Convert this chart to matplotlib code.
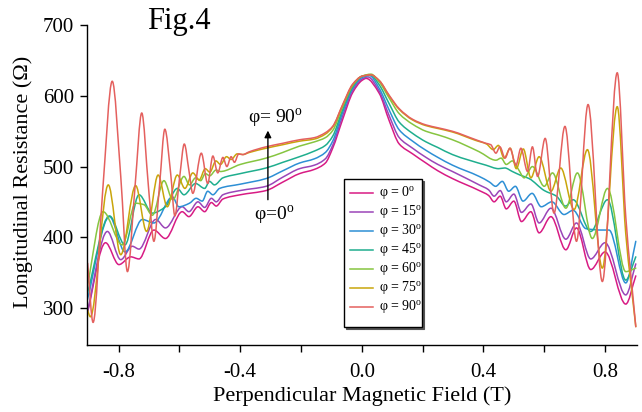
import numpy as np
import matplotlib
matplotlib.use("Agg")
import matplotlib.pyplot as plt
from matplotlib.path import Path
from matplotlib.patches import PathPatch, Rectangle
from matplotlib.lines import Line2D

plt.rcParams['font.family'] = 'Liberation Serif'
plt.rcParams['mathtext.fontset'] = 'custom'
plt.rcParams['mathtext.rm'] = 'Liberation Serif'

# magnetoresistance traces, field in T, resistance in Ohm
angles = [0, 15, 30, 45, 60, 75, 90]
colors = ['#d81b84', '#9b45b8', '#2d8fd5', '#1fae8e', '#86c540', '#c9a50b', '#e4605e']

b_00 = [-0.903, -0.843, -0.799, -0.760, -0.733, -0.684, -0.646, -0.591, -0.569, -0.539, -0.517,
        -0.495, -0.479, -0.457, -0.400, -0.315, -0.260, -0.205, -0.156, -0.120, -0.096, -0.063,
        -0.030, 0.000, 0.014, 0.057, 0.090, 0.123, 0.167, 0.211, 0.250, 0.298, 0.386, 0.417,
        0.435, 0.455, 0.475, 0.500, 0.525, 0.556, 0.583, 0.622, 0.671, 0.706, 0.753, 0.800,
        0.868, 0.901]
r_00 = [292, 392, 361, 372, 369, 410, 398, 436, 429, 443, 436,
        449, 444, 454, 460, 466, 478, 490, 496, 505, 526, 567,
        605, 622, 625, 604, 565, 532, 518, 505, 494, 483, 466, 459,
        450, 458, 440, 451, 422, 436, 406, 429, 382, 413, 354, 379,
        305, 345]

b_15 = [-0.903, -0.837, -0.793, -0.755, -0.733, -0.678, -0.646, -0.591, -0.569, -0.539, -0.517,
        -0.495, -0.479, -0.457, -0.400, -0.315, -0.260, -0.205, -0.156, -0.120, -0.096, -0.063,
        -0.030, 0.000, 0.020, 0.057, 0.090, 0.123, 0.167, 0.211, 0.250, 0.298, 0.386, 0.417,
        0.435, 0.455, 0.475, 0.500, 0.525, 0.556, 0.583, 0.622, 0.671, 0.706, 0.753, 0.800,
        0.868, 0.901]
r_15 = [294, 408, 368, 387, 383, 425, 413, 443, 436, 450, 442,
        455, 450, 460, 466, 472, 485, 497, 502, 511, 530, 572,
        608, 624, 627, 607, 572, 541, 526, 513, 503, 493, 474, 467,
        458, 466, 450, 461, 435, 447, 420, 441, 397, 420, 369, 392,
        318, 362]

b_30 = [-0.903, -0.830, -0.779, -0.722, -0.684, -0.623, -0.602, -0.567, -0.545, -0.525, -0.507,
        -0.490, -0.468, -0.400, -0.315, -0.260, -0.205, -0.156, -0.120, -0.096, -0.063, -0.030,
        0.000, 0.025, 0.057, 0.090, 0.123, 0.167, 0.211, 0.250, 0.298, 0.386, 0.420, 0.440,
        0.462, 0.483, 0.505, 0.530, 0.560, 0.590, 0.625, 0.665, 0.695, 0.737, 0.786, 0.813,
        0.868, 0.901]
r_30 = [311, 429, 379, 425, 420, 457, 443, 448, 455, 451, 465,
        460, 469, 475, 483, 494, 505, 511, 520, 536, 577, 611,
        626, 629, 611, 580, 552, 536, 523, 513, 502, 486, 478, 472,
        479, 465, 472, 451, 462, 443, 450, 432, 438, 412, 410, 410,
        335, 394]

b_45 = [-0.903, -0.830, -0.779, -0.733, -0.689, -0.646, -0.607, -0.585, -0.547, -0.517, -0.501,
        -0.485, -0.457, -0.400, -0.315, -0.260, -0.205, -0.156, -0.120, -0.096, -0.063, -0.030,
        0.000, 0.028, 0.057, 0.090, 0.123, 0.167, 0.211, 0.250, 0.298, 0.408, 0.450, 0.470,
        0.495, 0.520, 0.550, 0.600, 0.640, 0.670, 0.695, 0.753, 0.808, 0.868, 0.901]
r_45 = [320, 430, 389, 460, 434, 443, 469, 460, 476, 469, 479,
        474, 484, 490, 498, 506, 514, 522, 530, 543, 581, 613,
        628, 630, 616, 589, 563, 547, 535, 527, 517, 502, 497, 498,
        493, 488, 483, 466, 458, 444, 453, 408, 453, 339, 372]

b_60 = [-0.903, -0.851, -0.788, -0.744, -0.717, -0.689, -0.651, -0.622, -0.585, -0.567, -0.547,
        -0.530, -0.515, -0.500, -0.480, -0.465, -0.400, -0.315, -0.260, -0.205, -0.156, -0.120,
        -0.096, -0.063, -0.030, 0.000, 0.030, 0.057, 0.090, 0.123, 0.167, 0.211, 0.250, 0.298,
        0.386, 0.441, 0.458, 0.475, 0.495, 0.515, 0.534, 0.561, 0.600, 0.627, 0.671, 0.709,
        0.758, 0.808, 0.868, 0.901]
r_60 = [330, 436, 389, 448, 446, 431, 480, 453, 486, 474, 484,
        480, 490, 487, 495, 493, 503, 512, 520, 529, 535, 541,
        551, 585, 615, 628, 631, 620, 597, 575, 560, 550, 545, 538,
        521, 509, 512, 503, 508, 496, 484, 500, 472, 491, 441, 491,
        398, 469, 351, 356]

b_75 = [-0.902, -0.893, -0.834, -0.793, -0.744, -0.708, -0.670, -0.640, -0.607, -0.582, -0.556,
        -0.535, -0.515, -0.500, -0.480, -0.465, -0.445, -0.430, -0.410, -0.392, -0.370, -0.315,
        -0.260, -0.205, -0.156, -0.120, -0.096, -0.063, -0.030, 0.000, 0.030, 0.057, 0.090,
        0.123, 0.167, 0.211, 0.250, 0.298, 0.375, 0.410, 0.432, 0.449, 0.468, 0.488, 0.508,
        0.531, 0.556, 0.583, 0.622, 0.654, 0.698, 0.742, 0.791, 0.840, 0.868, 0.901]
r_75 = [296, 287, 474, 375, 473, 408, 488, 443, 488, 469, 491,
        481, 497, 492, 508, 503, 514, 510, 518, 517, 520, 526,
        531, 536, 539, 546, 556, 587, 616, 628, 630, 622, 600,
        581, 566, 558, 554, 549, 537, 532, 524, 530, 512, 526, 497,
        525, 484, 514, 465, 498, 439, 524, 356, 585, 405, 273]

b_90 = [-0.902, -0.884, -0.853, -0.821, -0.793, -0.771, -0.746, -0.724, -0.702, -0.684, -0.665,
        -0.648, -0.629, -0.615, -0.599, -0.584, -0.569, -0.556, -0.528, -0.507, -0.490, -0.474,
        -0.457, -0.444, -0.430, -0.419, -0.405, -0.392, -0.370, -0.315, -0.260, -0.205, -0.156,
        -0.120, -0.096, -0.063, -0.030, 0.000, 0.030, 0.057, 0.090, 0.123, 0.167, 0.211, 0.250,
        0.298, 0.375, 0.408, 0.424, 0.441, 0.454, 0.471, 0.487, 0.507, 0.523, 0.545, 0.561,
        0.578, 0.603, 0.632, 0.668, 0.706, 0.744, 0.791, 0.840, 0.868, 0.901]
r_90 = [363, 279, 462, 621, 486, 351, 472, 576, 472, 394, 476,
        553, 491, 430, 486, 532, 495, 462, 519, 476, 515, 491,
        513, 500, 514, 506, 518, 517, 521, 528, 533, 538, 541,
        548, 557, 588, 617, 628, 630, 622, 601, 582, 567, 559, 555,
        550, 538, 533, 531, 519, 528, 512, 526, 502, 526, 493, 528,
        486, 540, 434, 557, 394, 588, 337, 633, 429, 273]

fields = [b_00, b_15, b_30, b_45, b_60, b_75, b_90]
resist = [r_00, r_15, r_30, r_45, r_60, r_75, r_90]


def monotone_path(x, y):
    # piecewise cubic through the points, flat at every local extremum
    x = np.asarray(x, float)
    y = np.asarray(y, float)
    h = np.diff(x)
    d = np.diff(y) / h
    m = np.empty_like(y)
    m[0], m[-1] = d[0], d[-1]
    for i in range(1, len(x) - 1):
        if d[i - 1] * d[i] <= 0:
            m[i] = 0.0
        else:
            w1 = 2 * h[i] + h[i - 1]
            w2 = h[i] + 2 * h[i - 1]
            m[i] = (w1 + w2) / (w1 / d[i - 1] + w2 / d[i])
    verts = [(x[0], y[0])]
    codes = [Path.MOVETO]
    for i in range(len(x) - 1):
        verts += [(x[i] + h[i] / 3, y[i] + m[i] * h[i] / 3),
                  (x[i + 1] - h[i] / 3, y[i + 1] - m[i + 1] * h[i] / 3),
                  (x[i + 1], y[i + 1])]
        codes += [Path.CURVE4] * 3
    return Path(verts, codes)


W, H = 642, 412
fig = plt.figure(figsize=(W / 100, H / 100), dpi=100)
ax = fig.add_axes([86.7 / W, (H - 345) / H, (637 - 86.7) / W, (345 - 25.5) / H])

for b, r, c in zip(fields, resist, colors):
    ax.add_patch(PathPatch(monotone_path(b, r), fill=False, edgecolor=c, lw=1.1,
                           joinstyle='round', capstyle='round'))

ax.set_xlim(-0.905, 0.905)
ax.set_ylim(247, 700)
ax.set_xticks([-0.8, -0.4, 0.0, 0.4, 0.8])
ax.set_xticks([-0.6, -0.2, 0.2, 0.6], minor=True)
ax.set_yticks([300, 400, 500, 600, 700])
ax.set_xticklabels(['-0.8', '-0.4', '0.0', '0.4', '0.8'])
for side in ['top', 'right']:
    ax.spines[side].set_visible(False)
for side in ['left', 'bottom']:
    ax.spines[side].set_linewidth(1.0)
ax.tick_params(which='both', direction='out', width=1.0, labelsize=15)
ax.tick_params(which='both', length=5)
ax.tick_params(axis='x', which='major', pad=8)
ax.tick_params(axis='y', which='major', pad=4)

ax.set_xlabel('Perpendicular Magnetic Field (T)', fontsize=16)
ax.set_ylabel('Longitudinal Resistance (Ω)', fontsize=16)
ax.xaxis.set_label_coords(0.5, -0.128)
ax.yaxis.set_label_coords(-0.098, 0.51)

fig.text(179 / W, 1 - 21 / H, 'Fig.4', fontsize=22, ha='center', va='center')

# angle arrow
ax.annotate('', xy=(-0.309, 551), xytext=(-0.309, 453),
            arrowprops=dict(arrowstyle='-|>', color='black', lw=1.0, mutation_scale=10,
                            shrinkA=0, shrinkB=0))
ax.text(-0.284, 569, 'φ= 90$^\\mathrm{o}$', fontsize=14, ha='center', va='center')
ax.text(-0.289, 431, 'φ=0$^\\mathrm{o}$', fontsize=14, ha='center', va='center')

# legend box with a small shadow
fig.add_artist(Rectangle(((344 + 2) / W, (H - 327 - 2) / H), 78 / W, 148 / H,
                         transform=fig.transFigure, facecolor='#555555', edgecolor='#555555', lw=0.8))
fig.add_artist(Rectangle((344 / W, (H - 327) / H), 78 / W, 148 / H,
                         transform=fig.transFigure, facecolor='white', edgecolor='black', lw=1.0))
for i, (a, c) in enumerate(zip(angles, colors)):
    yy = 1 - (193.3 + 19 * i) / H
    fig.add_artist(Line2D([350 / W, 373 / W], [yy, yy], transform=fig.transFigure, color=c, lw=1.1))
    fig.text(379 / W, yy, 'φ = %d$^\\mathrm{o}$' % a, fontsize=10, ha='left', va='center')

fig.savefig('out.png', dpi=100)
